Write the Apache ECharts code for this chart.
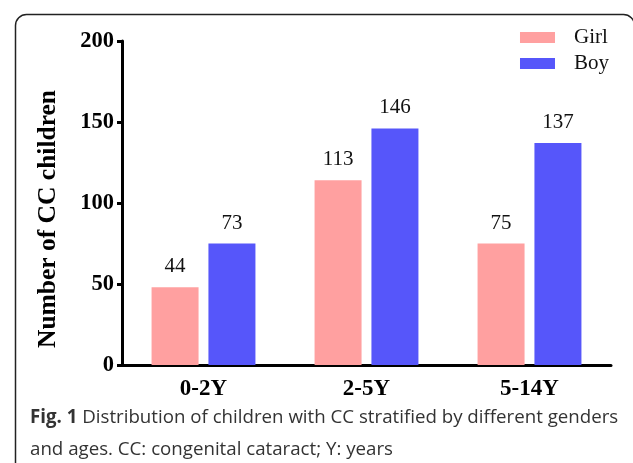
<!DOCTYPE html>
<html>
<head>
<meta charset="utf-8">
<script src="https://cdn.jsdelivr.net/npm/echarts@6/dist/echarts.min.js"></script>
<style>
html,body{margin:0;padding:0;background:#fff;}
#chart{width:633px;height:463px;}
</style>
</head>
<body>
<div id="chart"></div>
<script>
// Data
var categories = ['0-2Y', '2-5Y', '5-14Y'];
var girlValues = [48, 114, 75];   // bar heights as drawn
var boyValues = [75, 146, 137];
var girlLabels = ['44', '113', '75']; // printed labels
var boyLabels = ['73', '146', '137'];
var yTicks = [0, 50, 100, 150, 200];

var serif = '"Liberation Serif", "Times New Roman", serif';
var chart = echarts.init(document.getElementById('chart'));
chart.setOption({
  animation: false,
  backgroundColor: '#fff',
  grid: { left: 122, right: 22, top: 41, bottom: 98, containLabel: false },
  legend: {
    orient: 'vertical',
    right: 19,
    top: 22,
    itemWidth: 35,
    itemHeight: 11,
    itemGap: 5,
    icon: 'rect',
    textStyle: { fontFamily: serif, fontSize: 21, color: '#111', padding: [0, 0, 0, 14] },
    data: ['Girl', 'Boy']
  },
  xAxis: {
    type: 'category',
    data: categories,
    axisLine: { lineStyle: { color: '#000', width: 3 } },
    axisTick: { alignWithLabel: true, length: 5, lineStyle: { width: 3, color: '#000' } },
    axisLabel: { fontFamily: serif, fontWeight: 'bold', fontSize: 23, color: '#000', margin: 13 }
  },
  yAxis: {
    type: 'value',
    min: yTicks[0],
    max: yTicks[yTicks.length - 1],
    interval: 50,
    name: 'Number of CC children',
    nameLocation: 'middle',
    nameGap: 61,
    nameTextStyle: { fontFamily: serif, fontWeight: 'bold', fontSize: 25.5, color: '#000', padding: [0, 32, 0, 0] },
    axisLine: { show: true, lineStyle: { color: '#000', width: 3 } },
    axisTick: { show: true, length: 5, lineStyle: { width: 3, color: '#000' } },
    splitLine: { show: false },
    axisLabel: { fontFamily: serif, fontWeight: 'bold', fontSize: 22.5, color: '#000', margin: 8 }
  },
  series: [
    {
      name: 'Girl', type: 'bar', data: girlValues, barWidth: 47, barGap: '21%',
      itemStyle: { color: '#FFA0A0' },
      label: { show: true, position: 'top', distance: 10, fontFamily: serif, fontSize: 21, color: '#111',
        formatter: function (p) { return girlLabels[p.dataIndex]; } }
    },
    {
      name: 'Boy', type: 'bar', data: boyValues, barWidth: 47,
      itemStyle: { color: '#5656FA' },
      label: { show: true, position: 'top', distance: 10, fontFamily: serif, fontSize: 21, color: '#111',
        formatter: function (p) { return boyLabels[p.dataIndex]; } }
    }
  ],
  graphic: [
    {
      type: 'rect', left: 13, top: 12, silent: true,
      shape: { width: 619, height: 470, r: 11 },
      style: { fill: 'none', stroke: '#222', lineWidth: 1.5 }
    },
    {
      type: 'text', left: 30, top: 402, silent: true,
      style: {
        text: '{b|Fig. 1} Distribution of children with CC stratified by different genders\nand ages. CC: congenital cataract; Y: years',
        fontFamily: '"Open Sans", "Noto Sans", sans-serif',
        fontSize: 18.7, lineHeight: 32, fill: '#333',
        rich: { b: { fontWeight: 'bold', fontFamily: '"Open Sans", "Noto Sans", sans-serif', fontSize: 18.7, fill: '#333', lineHeight: 32 } }
      }
    }
  ]
});
</script>
</body>
</html>
